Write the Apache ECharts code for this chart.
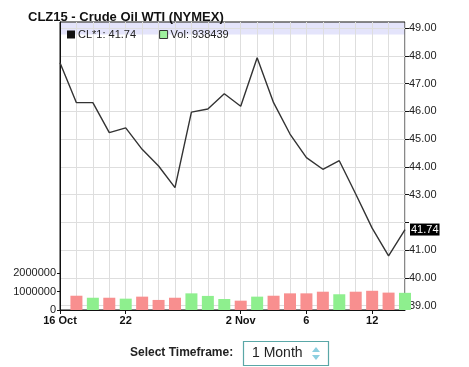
<!DOCTYPE html>
<html><head><meta charset="utf-8">
<script src="https://cdn.jsdelivr.net/npm/echarts@6/dist/echarts.min.js"></script>
<style>html,body{margin:0;padding:0;background:#fff}#c{width:469px;height:367px}</style>
</head><body><div id="c"></div>
<script>
var categories = ['16 Oct','19','20','21','22','23','26','27','28','29','30','2 Nov','3','4','5','6','9','10','11','12','13','16'];
var shownLabels = ['16 Oct','22','2 Nov','6','12'];
var prices = [47.75,46.31,46.31,45.23,45.40,44.63,44.03,43.25,45.97,46.08,46.63,46.18,47.93,46.31,45.18,44.33,43.91,44.22,43.02,41.79,40.79,41.74];
var volumes = [null,780000,670000,670000,620000,730000,550000,670000,910000,770000,600000,510000,730000,780000,910000,910000,1000000,860000,1000000,1050000,950000,938439];
var priceTicks = [39,40,41,42,43,44,45,46,47,48,49];
var volumeTicks = [0,1000000,2000000];

var lastPrice = prices[prices.length-1];
var lastVol = volumes[volumes.length-1];
var barData = volumes.map(function(v,i){
  var up = i>0 && prices[i] >= prices[i-1];
  return {value:v, itemStyle:{color: up ? '#8eef8e' : '#f88f8f'}};
});
var showIdx = function(i){ return i < categories.length-2 && shownLabels.indexOf(categories[i]) >= 0; };

var chart = echarts.init(document.getElementById('c'), null, {renderer:'canvas'});
var font = 'Arial, "Liberation Sans", sans-serif';
chart.setOption({
  animation:false,
  textStyle:{fontFamily:font},
  title:{text:'CLZ15 - Crude Oil WTI (NYMEX)', left:23, top:6,
    textStyle:{fontFamily:font, fontSize:13, fontWeight:'bold', color:'#111'}},
  legend:{left:62, top:24, itemWidth:8, itemHeight:8, itemGap:23, icon:'rect',
    textStyle:{fontFamily:font, fontSize:11, color:'#222', padding:[0,0,0,-2]},
    formatter:function(n){ return n==='CL*1' ? 'CL*1: '+lastPrice.toFixed(2) : 'Vol: '+lastVol; },
    data:[{name:'CL*1', itemStyle:{color:'#111'}},
          {name:'Vol', itemStyle:{color:'#9ef09e', borderColor:'#333', borderWidth:1}}]},
  grid:[
    {left:60, right:64, top:28, height:277.6},
    {left:60, right:64, top:22, height:288, show:true, borderColor:'#111', borderWidth:1}
  ],
  xAxis:[
    {type:'category', data:categories, gridIndex:0, boundaryGap:false, show:false},
    {type:'category', data:categories, gridIndex:1, boundaryGap:false,
     axisLine:{lineStyle:{color:'#111'}},
     axisTick:{show:true, length:4, interval:function(i){return showIdx(i);}, lineStyle:{color:'#111'}},
     axisLabel:{interval:function(i){return showIdx(i);}, fontFamily:font, fontSize:11, fontWeight:'bold', color:'#111', margin:5},
     splitLine:{show:true, interval:0, lineStyle:{color:'#dedede'}}}
  ],
  yAxis:[
    {type:'value', gridIndex:0, position:'right', min:39, max:49, interval:1,
     axisLine:{show:false},
     axisTick:{show:true, length:4, lineStyle:{color:'#111'}},
     axisLabel:{fontFamily:font, fontSize:11, color:'#222', margin:4,
       formatter:function(v){return Math.abs(v-lastPrice) < 0.5 ? '' : v.toFixed(2);}},
     splitLine:{show:true, lineStyle:{color:'#dedede'}}},
    {type:'value', gridIndex:1, position:'left', min:0, max:15740000, interval:1000000,
     axisLine:{show:true, lineStyle:{color:'#111'}},
     axisTick:{show:true, length:3, customValues:volumeTicks, lineStyle:{color:'#111'}},
     axisLabel:{fontFamily:font, fontSize:11, color:'#222', margin:4, customValues:volumeTicks,
       formatter:function(v){return v<=2000000 ? String(v) : '';}},
     splitLine:{show:false}}
  ],
  graphic:[
    {type:'rect', shape:{x:60.5, y:22.5, width:344, height:12}, style:{fill:'#e4e4fb'}, z:-1, silent:true},
    {type:'text', left:130, top:347, style:{text:'Select Timeframe:', font:'bold 12px '+font, fill:'#222'}},
    {type:'rect', shape:{x:243.5, y:341.5, width:85, height:24}, style:{fill:'#fff', stroke:'#5aa7a7', lineWidth:1.2}},
    {type:'text', left:252, top:346, style:{text:'1 Month', font:'14px '+font, fill:'#222'}},
    {type:'polygon', shape:{points:[[312,352],[320,352],[316,347]]}, style:{fill:'#8ccfe0'}},
    {type:'polygon', shape:{points:[[312,355],[320,355],[316,360]]}, style:{fill:'#8ccfe0'}}
  ],
  series:[
    {name:'CL*1', type:'line', xAxisIndex:0, yAxisIndex:0, data:prices, symbol:'none',
     lineStyle:{color:'#333', width:1.4}, itemStyle:{color:'#111'}, z:5,
     markLine:{silent:true, symbol:'none', lineStyle:{color:'rgba(0,0,0,0)', width:0},
       label:{show:true, position:'end', distance:5, formatter:function(p){return Number(p.value).toFixed(2);},
         backgroundColor:'#000', color:'#fff', fontFamily:font, fontSize:11, padding:[1,1,0,1]},
       data:[{yAxis:lastPrice}]}},
    {name:'Vol', type:'bar', xAxisIndex:1, yAxisIndex:1, data:barData, barWidth:12,
     itemStyle:{color:'#9ef09e'}, clip:true, z:3}
  ]
});
</script></body></html>
